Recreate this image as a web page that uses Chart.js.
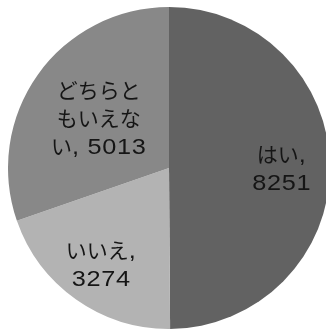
<!DOCTYPE html>
<html>
<head>
<meta charset="utf-8">
<script src="https://cdn.jsdelivr.net/npm/chart.js@4"></script>
<style>
  html, body { margin: 0; padding: 0; background: #fff; overflow: hidden; width: 326px; height: 329px; }
  #wrap { position: absolute; left: 8px; top: 7px; width: 322px; height: 322px; }
</style>
</head>
<body>
<div id="wrap"><canvas id="myChart"></canvas></div>
<script>
// answers and counts
var labels = ["はい", "いいえ", "どちらともいえない"];
var counts = [8251, 3274, 5013];
// how the label text is broken into lines
var labelLines = [
  ["はい,", "8251"],
  ["いいえ,", "3274"],
  ["どちらと", "もいえな", "い, 5013"]
];
var colors = ["#626262", "#b3b3b3", "#888888"];
// distance of each label from the centre, as a share of the radius
var labelDist = [0.70, 0.73, 0.536];

var latin = { font: "22px 'Liberation Sans'", sx: 1.15, gap: 0.6 };
var kana = { font: "21px 'Noto Sans CJK JP'", sx: 1, gap: 0 };

// split a line into runs of latin / japanese text
function runs(t) {
  var out = [];
  for (var k = 0; k < t.length; k++) {
    var st = t.charCodeAt(k) < 0x3000 ? latin : kana;
    if (out.length && out[out.length - 1].st === st) out[out.length - 1].text += t[k];
    else out.push({ st: st, text: t[k] });
  }
  return out;
}

var sliceLabels = {
  id: "sliceLabels",
  afterDatasetsDraw: function (chart) {
    var ctx = chart.ctx;
    var meta = chart.getDatasetMeta(0);
    ctx.save();
    ctx.fillStyle = "#151515";
    ctx.textAlign = "left";
    ctx.textBaseline = "alphabetic";
    meta.data.forEach(function (arc, i) {
      var p = arc.getProps(["x", "y", "startAngle", "endAngle", "outerRadius"], true);
      var mid = (p.startAngle + p.endAngle) / 2;
      var r = p.outerRadius * labelDist[i];
      var cx = p.x + Math.cos(mid) * r;
      var cy = p.y + Math.sin(mid) * r;
      var lines = labelLines[i];
      var lh = 28;
      lines.forEach(function (t, j) {
        var rs = runs(t);
        var w = 0;
        rs.forEach(function (s) {
          ctx.font = s.st.font;
          ctx.letterSpacing = s.st.gap + "px";
          s.w = ctx.measureText(s.text).width * s.st.sx;
          w += s.w;
        });
        var x = cx - w / 2;
        var y = cy + (j - (lines.length - 1) / 2) * lh + 8;
        rs.forEach(function (s) {
          ctx.save();
          ctx.font = s.st.font;
          ctx.letterSpacing = s.st.gap + "px";
          ctx.translate(x, y);
          ctx.scale(s.st.sx, 1);
          ctx.fillText(s.text, 0, 0);
          ctx.restore();
          x += s.w;
        });
      });
    });
    ctx.restore();
  }
};

var ctx = document.getElementById("myChart");
var myChart = new Chart(ctx, {
  type: "pie",
  data: {
    labels: labels,
    datasets: [
      {
        data: counts,
        backgroundColor: colors,
        borderWidth: 0
      }
    ]
  },
  options: {
    responsive: true,
    maintainAspectRatio: false,
    animation: false,
    layout: { padding: 0 },
    plugins: {
      legend: { display: false },
      tooltip: { enabled: false }
    }
  },
  plugins: [sliceLabels]
});
</script>
</body>
</html>
